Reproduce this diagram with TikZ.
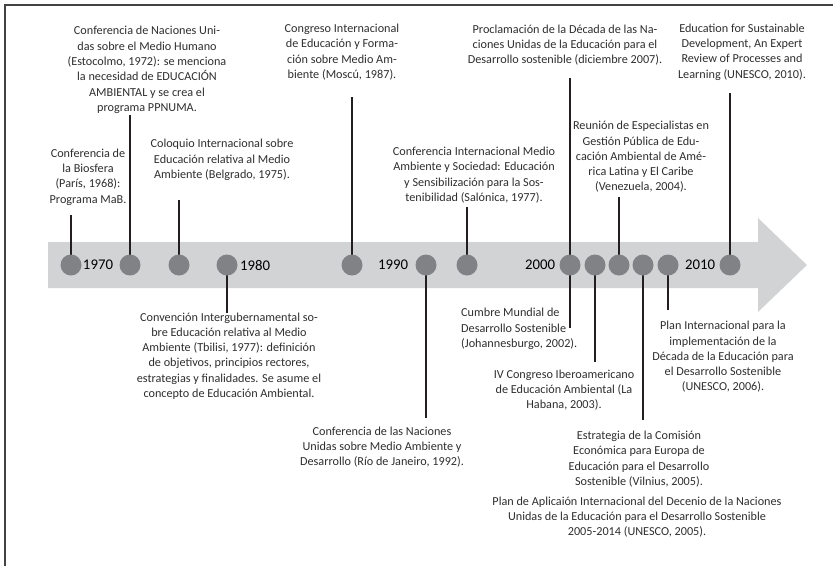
\documentclass[tikz,border=0pt]{standalone}
\usepackage{fontspec}
\setmainfont{Carlito}
\definecolor{band}{HTML}{D1D3D4}
\definecolor{dot}{HTML}{808285}
\definecolor{ink}{HTML}{2E2E2E}
\definecolor{rule}{HTML}{231F20}
\tikzset{
  evt/.style={align=center, inner sep=0pt, text=ink, font=\fontsize{12.2}{15.3}\selectfont},
  evtl/.style={align=left, inner sep=0pt, text=ink, font=\fontsize{12.2}{15.3}\selectfont},
  dotc/.style={circle, fill=dot, minimum size=21pt, inner sep=0pt},
  yr/.style={inner sep=0pt, text=black, font=\fontsize{14.8}{16}\selectfont},
  conn/.style={draw=rule, line width=1.1pt},
  frame/.style={draw=rule!85, line width=1.4pt}
}
\begin{document}
\begin{tikzpicture}[x=1pt,y=-1pt]
\useasboundingbox (0,0) rectangle (833,566);
% frame (top and left only)
\draw[frame] (833,5) -- (5,5) -- (5,566);
% arrow band
\fill[band] (48,242) -- (758,242) -- (758,218) -- (807,265) -- (758,312) -- (758,288) -- (48,288) -- cycle;
% connector end points
\coordinate (e1) at (71,215);
\coordinate (e2) at (130,115);
\coordinate (e3) at (179,200);
\coordinate (e4) at (227,313);
\coordinate (e5) at (352,97);
\coordinate (e6) at (426,418);
\coordinate (e7) at (467,207);
\coordinate (e8a) at (570,78);
\coordinate (e8b) at (570,328);
\coordinate (e9) at (595,362);
\coordinate (e10) at (619,197);
\coordinate (e11) at (643,420);
\coordinate (e12) at (668,310);
\coordinate (e13) at (730,93);
% circle positions
\coordinate (p1) at (71,265);
\coordinate (p2) at (130,265);
\coordinate (p3) at (179,265);
\coordinate (p4) at (227,265);
\coordinate (p5) at (352,265);
\coordinate (p6) at (426,265);
\coordinate (p7) at (467,265);
\coordinate (p8) at (570,265);
\coordinate (p9) at (595,265);
\coordinate (p10) at (619,265);
\coordinate (p11) at (643,265);
\coordinate (p12) at (668,265);
\coordinate (p13) at (730,265);
% connectors
\draw[conn] (p1) -- (e1);
\draw[conn] (p2) -- (e2);
\draw[conn] (p3) -- (e3);
\draw[conn] (p4) -- (e4);
\draw[conn] (p5) -- (e5);
\draw[conn] (p6) -- (e6);
\draw[conn] (p7) -- (e7);
\draw[conn] (e8a) -- (e8b);
\draw[conn] (p9) -- (e9);
\draw[conn] (p10) -- (e10);
\draw[conn] (p11) -- (e11);
\draw[conn] (p12) -- (e12);
\draw[conn] (p13) -- (e13);
% circles
\foreach \i in {1,...,13} {\node[dotc] (c\i) at (p\i) {};}
% years
\node[yr] (y1970) at (98,265) {1970};
\node[yr] (y1980) at (255,265) {1980};
\node[yr] (y1990) at (393,265) {1990};
\node[yr] (y2000) at (540,265) {2000};
\node[yr] (y2010) at (700,265) {2010};
% event texts
\node[evt] (t1) at (88,177) {Conferencia de\\la Biosfera\\(París, 1968):\\Programa MaB.};
\node[evt] (t2) at (147,70) {Conferencia de Naciones Uni-\\das sobre el Medio Humano\\(Estocolmo, 1972): se menciona\\la necesidad de EDUCACIÓN\\AMBIENTAL y se crea el\\programa PPNUMA.};
\node[evt] (t3) at (222,160) {Coloquio Internacional sobre\\Educación relativa al Medio\\Ambiente (Belgrado, 1975).};
\node[evt] (t4) at (229,356) {Convención Intergubernamental so-\\bre Educación relativa al Medio\\Ambiente (Tbilisi, 1977): definición\\de objetivos, principios rectores,\\estrategias y finalidades. Se asume el\\concepto de Educación Ambiental.};
\node[evt] (t5) at (342,52) {Congreso Internacional\\de Educación y Forma-\\ción sobre Medio Am-\\biente (Moscú, 1987).};
\node[evt] (t6) at (382,447) {Conferencia de las Naciones\\Unidas sobre Medio Ambiente y\\Desarrollo (Río de Janeiro, 1992).};
\node[evt] (t7) at (474,175) {Conferencia Internacional Medio\\Ambiente y Sociedad: Educación\\y Sensibilización para la Sos-\\tenibilidad (Salónica, 1977).};
\node[evt] (t8) at (565,45) {Proclamación de la Década de las Na-\\ciones Unidas de la Educación para el\\Desarrollo sostenible (diciembre 2007).};
\node[evtl, anchor=west] (t9) at (461,329) {Cumbre Mundial de\\Desarrollo Sostenible\\(Johannesburgo, 2002).};
\node[evt] (t10) at (564,390) {IV Congreso Iberoamericano\\de Educación Ambiental (La\\Habana, 2003).};
\node[evt] (t11) at (641,157) {Reunión de Especialistas en\\Gestión Pública de Edu-\\cación Ambiental de Amé-\\rica Latina y El Caribe\\(Venezuela, 2004).};
\node[evt] (t12) at (639,459) {Estrategia de la Comisión\\Económica para Europa de\\Educación para el Desarrollo\\Sostenible (Vilnius, 2005).};
\node[evt] (t13) at (637,517) {Plan de Aplicaión Internacional del Decenio de la Naciones\\Unidas de la Educación para el Desarrollo Sostenible\\2005-2014 (UNESCO, 2005).};
\node[evt] (t14) at (723,357) {Plan Internacional para la\\implementación de la\\Década de la Educación para\\el Desarrollo Sostenible\\(UNESCO, 2006).};
\node[evt] (t15) at (742,52) {Education for Sustainable\\Development, An Expert\\Review of Processes and\\Learning (UNESCO, 2010).};
\end{tikzpicture}
\end{document}
